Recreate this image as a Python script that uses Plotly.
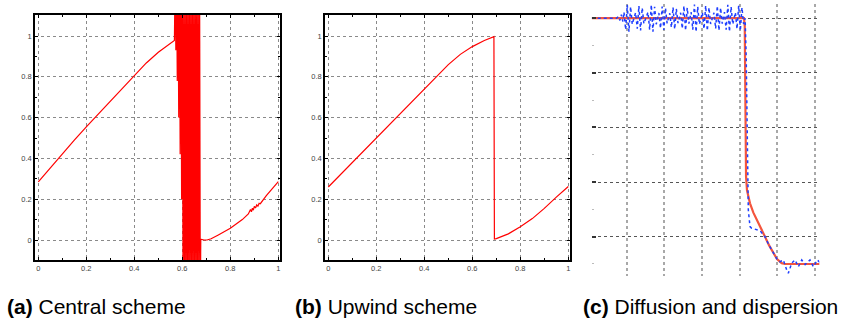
import plotly.graph_objects as go

W, H = 854, 321

# ---------------- (a) Central scheme ----------------
a_left_x = [0, 0.05, 0.1, 0.15, 0.2, 0.25, 0.3, 0.35, 0.4, 0.45, 0.5, 0.53, 0.55, 0.567]
a_left_y = [0.285, 0.355, 0.425, 0.49, 0.555, 0.618, 0.68, 0.745, 0.808, 0.868, 0.92, 0.945, 0.962, 0.978]

a_osc_x = [0.570, 0.573, 0.576, 0.579, 0.582, 0.585, 0.588, 0.591, 0.594, 0.597,
           0.600, 0.603, 0.606, 0.609, 0.612, 0.615, 0.618, 0.621, 0.624, 0.627,
           0.630, 0.633, 0.636, 0.639, 0.642, 0.645, 0.648, 0.651, 0.654, 0.657,
           0.660, 0.663, 0.666, 0.669, 0.672, 0.675]
a_osc_y = [1.3, 0.93, 1.3, 0.78, 1.3, 0.60, 1.3, 0.42, 1.3, 0.20,
           1.3, -0.3, 1.3, -0.3, 1.3, -0.3, 1.3, -0.3, 1.3, -0.3,
           1.3, -0.3, 1.3, -0.3, 1.3, -0.3, 1.3, -0.3, 1.3, -0.3,
           1.3, -0.3, 1.3, -0.3, 1.3, -0.3]

a_right_x = [0.677, 0.69, 0.703, 0.72, 0.75, 0.8, 0.85, 0.875, 0.88, 0.884, 0.888, 0.892,
             0.896, 0.9, 0.905, 0.91, 0.915, 0.92, 0.925, 0.95, 1.0]
a_right_y = [0.004, 0.0, 0.0, 0.006, 0.025, 0.058, 0.1, 0.128, 0.14, 0.15, 0.138, 0.156,
             0.146, 0.165, 0.157, 0.172, 0.166, 0.18, 0.178, 0.218, 0.286]

# ---------------- (b) Upwind scheme ----------------
b_x = [0, 0.05, 0.1, 0.15, 0.2, 0.25, 0.3, 0.35, 0.4, 0.45, 0.5, 0.55, 0.6, 0.65, 0.69,
       0.692, 0.7, 0.75, 0.8, 0.85, 0.9, 0.95, 1.0]
b_y = [0.26, 0.32, 0.385, 0.445, 0.505, 0.56, 0.62, 0.68, 0.74, 0.80, 0.86, 0.91, 0.948,
       0.978, 0.997, 0.005, 0.007, 0.03, 0.065, 0.105, 0.155, 0.21, 0.262]

# ---------------- (c) Diffusion and dispersion ----------------
c_red_x = [0.06, 4.12, 4.14, 4.16, 4.175, 4.2, 4.28, 4.37, 4.459, 4.57, 4.68, 4.79, 4.901,
           5.0, 5.125, 5.213, 6.147]
c_red_y = [1.0, 1.0, 0.97, 0.7, 0.42, 0.37, 0.322, 0.288, 0.261, 0.229, 0.2, 0.168, 0.139,
           0.118, 0.103, 0.1, 0.1]

c_blue_x = [0.06, 0.72, 0.77, 0.81, 0.85, 0.89,
            0.92, 0.964, 1.008, 1.052, 1.096, 1.14, 1.185,
            1.23, 1.274, 1.318, 1.362, 1.406, 1.45, 1.505,
            1.56, 1.604, 1.648, 1.692, 1.736, 1.78, 1.815,
            1.85, 1.894, 1.938, 1.982, 2.026, 2.07, 2.105,
            2.14, 2.184, 2.228, 2.272, 2.316, 2.36, 2.395,
            2.43, 2.474, 2.518, 2.562, 2.606, 2.65, 2.68,
            2.71, 2.754, 2.798, 2.842, 2.886, 2.93, 2.97,
            3.01, 3.054, 3.098, 3.142, 3.186, 3.23, 3.275,
            3.32, 3.364, 3.408, 3.452, 3.496, 3.54, 3.57,
            3.60, 3.644, 3.688, 3.732, 3.776, 3.82, 3.855,
            3.89, 3.934, 3.978, 4.022, 4.066, 4.11,
            4.15, 4.18, 4.235, 4.28, 4.325, 4.547, 4.68, 4.79, 4.901, 5.0,
            5.08, 5.168, 5.259, 5.302, 5.392, 5.48, 5.57, 5.66, 5.75, 5.88, 5.97, 6.075, 6.147]
c_blue_y = [1.0, 1.0, 1.006, 0.992, 1.013, 0.988,
            1.022, 0.958, 1.049, 0.951, 1.042, 0.978, 1.0,
            1.020, 0.962, 1.045, 0.955, 1.038, 0.980, 1.0,
            1.022, 0.958, 1.049, 0.951, 1.042, 0.978, 1.0,
            1.019, 0.963, 1.043, 0.957, 1.037, 0.981, 1.0,
            1.018, 0.966, 1.040, 0.960, 1.034, 0.982, 1.0,
            1.020, 0.962, 1.045, 0.955, 1.038, 0.980, 1.0,
            1.022, 0.958, 1.050, 0.950, 1.042, 0.978, 1.0,
            1.021, 0.961, 1.046, 0.954, 1.039, 0.979, 1.0,
            1.020, 0.962, 1.045, 0.955, 1.038, 0.980, 1.0,
            1.022, 0.958, 1.049, 0.951, 1.042, 0.978, 1.0,
            1.021, 0.961, 1.046, 0.954, 1.039, 0.979,
            1.0, 0.85, 0.298, 0.237, 0.231, 0.222, 0.2, 0.168, 0.139, 0.118,
            0.108, 0.115, 0.078, 0.066, 0.103, 0.115, 0.09, 0.115, 0.098, 0.115, 0.09, 0.115, 0.105]

captions = ["(a)", "(b)", "(c)"]
caption_texts = ["Central scheme", "Upwind scheme", "Diffusion and dispersion"]

tick_vals = [0, 0.2, 0.4, 0.6, 0.8, 1]
tick_text = ["0", "0.2", "0.4", "0.6", "0.8", "1"]
c_major_y = [0.2, 0.4, 0.6, 0.8, 1.0]
c_minor_y = [0.1, 0.3, 0.5, 0.7, 0.9]
c_grid_x = [1, 2, 3, 4, 5, 6]

RED = "#ff0000"

fig = go.Figure()
fig.add_trace(go.Scatter(x=a_left_x + a_osc_x + a_right_x, y=a_left_y + a_osc_y + a_right_y,
                         mode="lines", line=dict(color=RED, width=1.2),
                         xaxis="x", yaxis="y", showlegend=False))
fig.add_trace(go.Scatter(x=b_x, y=b_y, mode="lines", line=dict(color=RED, width=1.2),
                         xaxis="x2", yaxis="y2", showlegend=False))
fig.add_trace(go.Scatter(x=c_red_x, y=c_red_y, mode="lines", line=dict(color="#f4553d", width=2.2),
                         xaxis="x3", yaxis="y3", showlegend=False))
fig.add_trace(go.Scatter(x=c_blue_x, y=c_blue_y, mode="lines",
                         line=dict(color="#1f3fff", width=1.5, dash="dot"),
                         xaxis="x3", yaxis="y3", showlegend=False))

def px_x(p):
    return p / W

def px_y(p):
    return 1 - p / H

tickfont = dict(family="Liberation Sans, Arial", size=7.5, color="#444")

def framed_axis(domain, rng, anchor):
    return dict(domain=domain, range=rng, anchor=anchor,
                showline=True, linecolor="black", linewidth=1.5, mirror="allticks",
                ticks="inside", ticklen=3, tickcolor="black", tickwidth=1,
                tickvals=tick_vals, ticktext=tick_text, tickfont=tickfont,
                showgrid=True, gridcolor="#8a8a8a", gridwidth=1, griddash="dot",
                zeroline=False,
                minor=dict(ticks="inside", ticklen=2, tickcolor="black", dtick=0.1, showgrid=False))

ydom = [px_y(260), px_y(15)]
xrng = [-0.0138, 1.007]
yrng = [-0.098, 1.103]

layout = dict(
    width=W, height=H, margin=dict(l=0, r=0, t=0, b=0),
    paper_bgcolor="white", plot_bgcolor="white", showlegend=False,
    xaxis=framed_axis([px_x(35), px_x(280)], xrng, "y"),
    yaxis=framed_axis(ydom, yrng, "x"),
    xaxis2=framed_axis([px_x(325), px_x(570)], xrng, "y2"),
    yaxis2=framed_axis(ydom, yrng, "x2"),
    xaxis3=dict(domain=[px_x(591.7), px_x(819.3)], range=[0.059, 6.128], anchor="y3",
                showline=False, zeroline=False, showticklabels=False, ticks="",
                tickvals=c_grid_x, showgrid=True, gridcolor="#a8a8a8",
                gridwidth=1.5, griddash="dot"),
    yaxis3=dict(domain=[px_y(276), px_y(4)], range=[0.056, 1.052], anchor="x3",
                showline=False, zeroline=False, showticklabels=False,
                ticks="inside", ticklen=4, tickcolor="#333", tickwidth=1.5,
                tickvals=c_major_y, showgrid=True, gridcolor="#555555",
                gridwidth=1.3, griddash="dot",
                minor=dict(ticks="inside", ticklen=2, tickcolor="#bbbbbb", tickwidth=1,
                           tickvals=c_minor_y, showgrid=False)),
)
fig.update_layout(**layout)

cap_x = [5, 293, 581]
for cx, lab, txt in zip(cap_x, captions, caption_texts):
    fig.add_annotation(x=px_x(cx), y=px_y(306), xref="paper", yref="paper",
                       xanchor="left", yanchor="middle", showarrow=False,
                       text=f"<b>{lab}</b> {txt}",
                       font=dict(family="Liberation Sans, Arial", size=21, color="black"))

fig.write_html("out.html", config={"displayModeBar": False},
               post_script="document.body.style.margin='0px';document.body.style.padding='0px';document.body.style.overflow='hidden';")
